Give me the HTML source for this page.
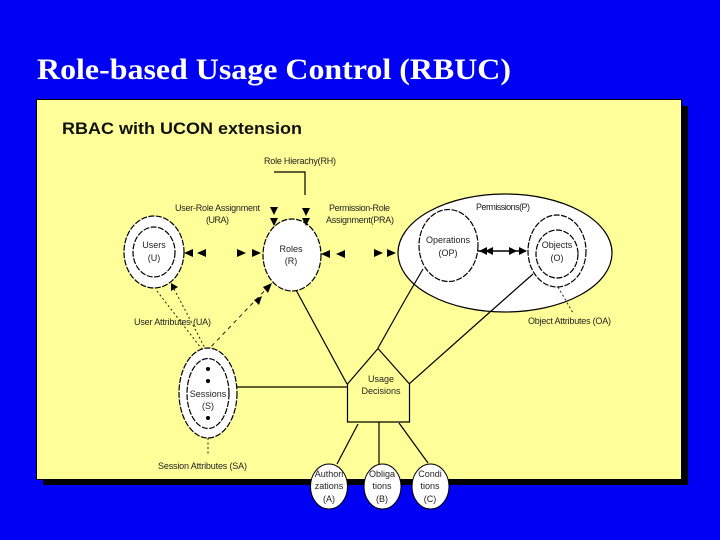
<!DOCTYPE html>
<html>
<head>
<meta charset="utf-8">
<style>
html,body{margin:0;padding:0;width:720px;height:540px;overflow:hidden;background:#0000f5}
svg{display:block}
.l{font-family:"Liberation Sans",sans-serif;font-size:9px;fill:#222}
.m{text-anchor:middle}
.e{fill:#fff;stroke:#000;stroke-width:1.2;stroke-dasharray:6 1.5}
.s{fill:none;stroke:#000;stroke-width:1.2}
.d{fill:none;stroke:#222;stroke-width:1;stroke-dasharray:2 2.5}
.h{fill:none;stroke:#222;stroke-width:1;stroke-dasharray:4 4}
</style>
</head>
<body>
<svg width="720" height="540" viewBox="0 0 720 540" xmlns="http://www.w3.org/2000/svg">
<rect width="720" height="540" fill="#0000f5"/>
<text x="37" y="79" font-family="'Liberation Serif',serif" font-weight="bold" font-size="29.5" fill="#fff" textLength="474" lengthAdjust="spacingAndGlyphs">Role-based Usage Control (RBUC)</text>
<rect x="43" y="106" width="645" height="379" fill="#000"/>
<rect x="36.500" y="99.500" width="645" height="380" fill="#ffff99" stroke="#000" stroke-width="1"/>
<text x="62" y="134" font-family="'Liberation Sans',sans-serif" font-weight="bold" font-size="17" fill="#111" textLength="240" lengthAdjust="spacingAndGlyphs">RBAC with UCON extension</text>

<!-- connectors -->
<polyline class="s" points="274,172 305,172 305,195"/>
<line class="s" x1="296" y1="290" x2="347" y2="384"/>
<line class="s" x1="378" y1="348" x2="405" y2="300"/>
<line class="s" x1="490" y1="312" x2="409" y2="384"/>
<line class="s" x1="237" y1="387" x2="347" y2="387"/>
<line class="s" x1="358" y1="424" x2="337" y2="464"/>
<line class="s" x1="379" y1="422" x2="379" y2="464"/>
<line class="s" x1="399" y1="423" x2="428" y2="463"/>
<line class="d" x1="157" y1="291" x2="204" y2="352"/>
<line class="d" x1="172" y1="285" x2="206" y2="350"/>
<line class="h" x1="206" y1="352" x2="271" y2="284"/>

<!-- Permissions -->
<ellipse cx="505" cy="253" rx="107" ry="59" fill="#fff" stroke="#000" stroke-width="1.200"/>
<line class="s" x1="533" y1="274" x2="490" y2="312"/>
<line class="s" x1="423" y1="269" x2="405" y2="300"/>
<line class="d" x1="558" y1="287" x2="573" y2="313"/>
<ellipse class="e" cx="448.500" cy="245.500" rx="29.500" ry="36"/>
<ellipse class="e" cx="557" cy="251" rx="29" ry="36"/>
<ellipse class="e" cx="557" cy="254" rx="21" ry="24"/>
<line x1="478" y1="251" x2="526" y2="251" stroke="#000" stroke-width="1.400"/>

<!-- Nodes -->
<ellipse class="e" cx="154" cy="252" rx="30" ry="36"/>
<ellipse class="e" cx="154" cy="252" rx="21" ry="25"/>
<ellipse class="e" cx="292" cy="255" rx="29" ry="36"/>
<ellipse class="e" cx="208" cy="393" rx="29" ry="45"/>
<ellipse class="e" cx="208" cy="393.500" rx="21" ry="35"/>
<circle cx="208" cy="369" r="2" fill="#000"/>
<circle cx="208" cy="381" r="2" fill="#000"/>
<circle cx="208" cy="418" r="2" fill="#000"/>
<polygon points="347.500,384 378,348.500 409.500,384 409.500,422 347.500,422" fill="#ffff99" stroke="#000" stroke-width="1.200"/>
<line class="d" x1="208" y1="438" x2="208" y2="455"/>
<ellipse cx="329" cy="486.500" rx="18.500" ry="22.500" fill="#fff" stroke="#000"/>
<ellipse cx="382.500" cy="486.500" rx="18.500" ry="22.500" fill="#fff" stroke="#000"/>
<ellipse cx="430.500" cy="486.500" rx="18.500" ry="22.500" fill="#fff" stroke="#000"/>

<!-- Arrowheads -->
<g fill="#000">
<polygon points="184,253 193,249 193,257"/>
<polygon points="197,253 206,249 206,257"/>
<polygon points="246,253 237,249 237,257"/>
<polygon points="261,253 252,249 252,257"/>
<polygon points="321,254 330,250 330,258"/>
<polygon points="336,254 345,250 345,258"/>
<polygon points="383,253 374,249 374,257"/>
<polygon points="396,253 387,249 387,257"/>
<polygon points="479,251 487,247 487,255"/>
<polygon points="485,251 493,247 493,255"/>
<polygon points="517,251 509,247 509,255"/>
<polygon points="527,251 519,247 519,255"/>
<polygon points="274,215 270,207 278,207"/>
<polygon points="274,226 270,218 278,218"/>
<polygon points="306,216 302,208 310,208"/>
<polygon points="306,226 302,218 310,218"/>
<polygon points="171,283 178,287 171,291"/>
<polygon points="272,283 263,287 268,293"/>
<polygon points="262,296 254,300 259,305"/>
</g>

<!-- Labels -->
<g class="l">
<text x="264" y="164" textLength="72">Role Hierachy(RH)</text>
<text x="175" y="211" textLength="85">User-Role Assignment</text>
<text x="206" y="223" textLength="23">(URA)</text>
<text x="329" y="211" textLength="61">Permission-Role</text>
<text x="326" y="223" textLength="68">Assignment(PRA)</text>
<text x="476" y="210" textLength="54">Permissions(P)</text>
<text x="154" y="248" class="m">Users</text>
<text x="154" y="261" class="m">(U)</text>
<text x="291" y="252" class="m">Roles</text>
<text x="291" y="264" class="m">(R)</text>
<text x="448" y="243" class="m">Operations</text>
<text x="448" y="256" class="m">(OP)</text>
<text x="557" y="248" class="m">Objects</text>
<text x="557" y="261" class="m">(O)</text>
<text x="208" y="397" class="m">Sessions</text>
<text x="208" y="409" class="m">(S)</text>
<text x="381" y="382" class="m">Usage</text>
<text x="381" y="394" class="m">Decisions</text>
<text x="134" y="325" textLength="77">User Attributes (UA)</text>
<text x="528" y="324" textLength="83">Object Attributes (OA)</text>
<text x="158" y="469" textLength="89">Session Attributes (SA)</text>
<text x="329" y="477" class="m">Authori</text>
<text x="329" y="489" class="m">zations</text>
<text x="329" y="502" class="m">(A)</text>
<text x="382" y="477" class="m">Obliga</text>
<text x="382" y="489" class="m">tions</text>
<text x="382" y="502" class="m">(B)</text>
<text x="430" y="477" class="m">Condi</text>
<text x="430" y="489" class="m">tions</text>
<text x="430" y="502" class="m">(C)</text>
</g>
</svg>
</body>
</html>
